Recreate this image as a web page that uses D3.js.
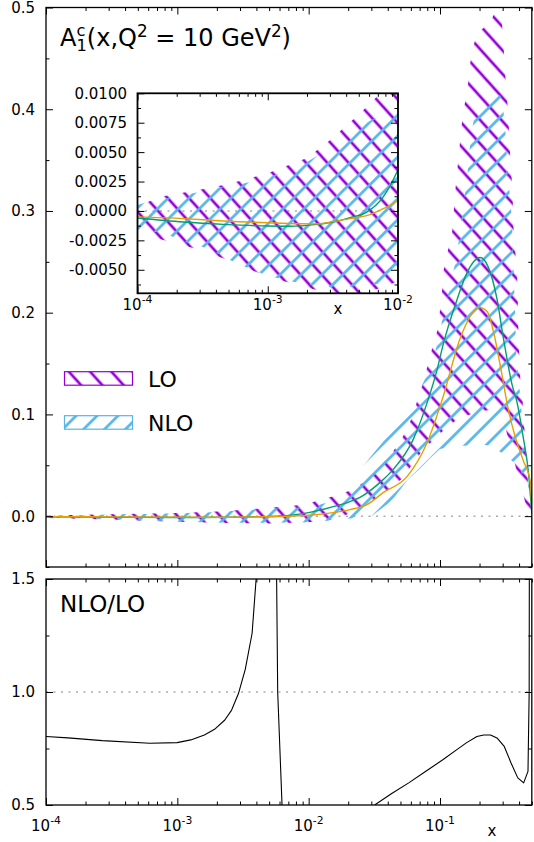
<!DOCTYPE html>
<html><head><meta charset="utf-8">
<script src="https://cdn.jsdelivr.net/npm/d3@7"></script>
<style>
body{margin:0;background:#fff}
text{font-family:"DejaVu Sans",sans-serif;white-space:pre}
</style>
</head><body>
<svg id="c" width="534" height="842"></svg>
<script>
// ---------------- data ----------------
const loUpX = [1e-4,1.5e-4,3e-4,5e-4,1e-3,2e-3,3e-3,5e-3,7e-3,1e-2,0.0117,0.0166,0.0214,0.0269,0.0339,0.0398,0.0479,0.0542,0.0617,0.068,0.0741,0.0841,0.0966,0.1038,0.1057,0.1153,0.1236,0.1303,0.1349,0.1396,0.1445,0.15,0.162,0.1667,0.1758,0.192,0.24,0.272,0.287,0.302,0.318,0.33,0.336,0.342,0.352,0.358,0.362,0.373,0.386,0.394,0.396,0.405,0.41,0.422,0.43,0.445,0.469,0.5];
const loUpY = [0.0004,0.0012,0.0018,0.0023,0.0032,0.0045,0.006,0.0082,0.0098,0.012,0.0155,0.0205,0.026,0.034,0.046,0.057,0.07,0.082,0.098,0.116,0.13,0.158,0.185,0.222,0.24,0.262,0.279,0.318,0.338,0.358,0.378,0.398,0.418,0.438,0.458,0.475,0.485,0.5,0.51,0.47,0.423,0.398,0.376,0.355,0.33,0.31,0.285,0.262,0.24,0.194,0.172,0.152,0.128,0.124,0.102,0.076,0.03,0.004];
const loLowX = [1e-4,1.5e-4,3e-4,5e-4,1e-3,2e-3,3e-3,5e-3,1e-2,0.0155,0.02,0.0245,0.03,0.035,0.0437,0.0525,0.063,0.0741,0.0912,0.1096,0.138,0.2,0.272,0.31,0.35,0.4,0.45,0.5];
const loLowY = [-0.0019,-0.0024,-0.0033,-0.0042,-0.0056,-0.0065,-0.007,-0.0072,-0.006,-0.003,0.002,0.008,0.014,0.02,0.029,0.038,0.053,0.065,0.076,0.086,0.096,0.103,0.105,0.09,0.065,0.035,0.012,0.002];

const nloUpX = [1e-4,1.32e-4,2e-4,2.95e-4,4.17e-4,5.9e-4,9.5e-4,1.66e-3,2.4e-3,3.8e-3,6.2e-3,1e-2,0.0155,0.02,0.0246,0.0294,0.0362,0.044,0.0562,0.0731,0.0885,0.1,0.1132,0.1349,0.15,0.1607,0.1667,0.1758,0.192,0.2244,0.258,0.297,0.308,0.318,0.33,0.342,0.354,0.36,0.373,0.38,0.407,0.43,0.469,0.5];
const nloUpY = [0.0005,0.0009,0.0012,0.0016,0.002,0.0022,0.0028,0.0036,0.0047,0.0064,0.0077,0.0088,0.015,0.028,0.045,0.058,0.072,0.087,0.105,0.129,0.151,0.183,0.213,0.257,0.306,0.33,0.357,0.381,0.407,0.417,0.42,0.411,0.391,0.371,0.33,0.314,0.288,0.255,0.2,0.16,0.12,0.084,0.04,0.002];
const nloLowX = [1e-4,1.62e-4,2.24e-4,3.47e-4,5.9e-4,1e-3,1.86e-3,3.16e-3,5e-3,1e-2,0.0155,0.03,0.0355,0.0427,0.0562,0.0708,0.0841,0.1,0.13,0.2244,0.25,0.297,0.373,0.43,0.469,0.5];
const nloLowY = [-0.0016,-0.0019,-0.0026,-0.0032,-0.0045,-0.0055,-0.0062,-0.0065,-0.0064,-0.006,-0.004,0.0,0.007,0.015,0.035,0.047,0.057,0.066,0.069,0.07,0.068,0.062,0.052,0.04,0.03,0.002];

const loCenX = [1e-4,2.25e-4,4.57e-4,1e-3,1.48e-3,2.38e-3,3.19e-3,4.28e-3,5.75e-3,7.7e-3,1e-2,0.01535,0.02065,0.0246,0.03689,0.04397,0.0624,0.0798,0.09506,0.10566,0.13497,0.16069,0.20182,0.23221,0.27199,0.3025,0.35402,0.38637,0.42954,0.46881,0.5];
const loCenY = [-0.0006,-0.00094,-0.00114,-0.00128,-0.0013,-0.00114,-0.00094,-0.00057,-0.0001,0.0012,0.0035,0.0093,0.0143,0.0185,0.0359,0.0457,0.0752,0.1116,0.144,0.1686,0.213,0.2394,0.2542,0.2453,0.213,0.1765,0.129,0.1116,0.078,0.0457,0.003];
const nloCenX = [1e-4,2.25e-4,4.57e-4,1e-3,2.38e-3,3.19e-3,4.28e-3,5.75e-3,7.7e-3,1e-2,0.01535,0.02065,0.02776,0.03689,0.05608,0.0798,0.10566,0.14122,0.17766,0.20182,0.2295,0.25644,0.29143,0.33117,0.36996,0.42954,0.48863,0.5];
const nloCenY = [-0.0005,-0.00065,-0.00085,-0.001,-0.0011,-0.0009,-0.00065,-0.0004,0.0002,0.0009,0.0034,0.0064,0.0113,0.0231,0.0388,0.0723,0.1175,0.1735,0.2001,0.205,0.201,0.1804,0.144,0.105,0.08,0.055,0.033,0.004];

// NLO/LO ratio (null marks a break in the curve)
const ratioX = [1e-4,1.47e-4,2.68e-4,6.18e-4,9.97e-4,1.265e-3,1.607e-3,1.92e-3,2.3e-3,2.59e-3,2.92e-3,3.29e-3,3.71e-3,3.98e-3,4.05e-3,null,
                5.68e-3,5.81e-3,6.27e-3,6.35e-3,null,
                0.0318,0.0429,0.0578,0.078,0.105,0.1336,0.1596,0.191,0.2153,0.2427,0.2735,0.3085,0.3475,0.391,0.4335,0.4677,0.4775,0.479];
const ratioY = [0.803,0.797,0.785,0.773,0.776,0.788,0.81,0.835,0.876,0.92,0.993,1.1,1.26,1.5,1.6,null,
                1.6,1.0,0.5,0.47,null,
                0.5,0.551,0.598,0.649,0.70,0.744,0.776,0.803,0.81,0.81,0.795,0.759,0.686,0.62,0.598,0.649,1.0,1.6];

const mainYTicks = [0,0.1,0.2,0.3,0.4,0.5];
const mainYMinor = [-0.05,0.05,0.15,0.25,0.35,0.45];
const ratioYTicks = [0.5,1.0,1.5];
const ratioYMinor = [0.75,1.25];
const insetYTicks = [-0.005,-0.0025,0,0.0025,0.005,0.0075,0.01];
const insetYMinor = [-0.00625,-0.00375,-0.00125,0.00125,0.00375,0.00625,0.00875];
const mainXLabels = [1e-4,1e-3,1e-2,1e-1];
const mainXExp = ["-4","-3","-2","-1"];
const insetXLabels = [1e-4,1e-3,1e-2];
const insetXExp = ["-4","-3","-2"];

const cLO = "#9400D3", cNLO = "#56B4E9", cLOline = "#009E73", cNLOline = "#E69F00";

// ---------------- scales ----------------
const xMain = d3.scaleLog().domain([1e-4,0.5]).range([46,531.8]);
const yMain = d3.scaleLinear().domain([-0.05,0.5]).range([567,7.5]);
const yRat  = d3.scaleLinear().domain([0.5,1.5]).range([805,579]);
const xIn   = d3.scaleLog().domain([1e-4,1e-2]).range([137.5,398]);
const yIn   = d3.scaleLinear().domain([-0.007,0.010]).range([293.3,93.3]);

const svg = d3.select("#c");
const defs = svg.append("defs");

function hatch(id,color,angle,spacing,width){
  const p = defs.append("pattern").attr("id",id).attr("patternUnits","userSpaceOnUse")
    .attr("width",spacing).attr("height",spacing).attr("patternTransform",`rotate(${angle})`);
  p.append("line").attr("x1",spacing/2).attr("x2",spacing/2).attr("y1",-2).attr("y2",spacing+2)
    .attr("stroke",color).attr("stroke-width",width);
}
hatch("hLO",cLO,-42,15.8,2.7);
hatch("hNLO",cNLO,45,14.8,2.7);

function clip(id,x0,y0,x1,y1){
  defs.append("clipPath").attr("id",id).append("rect")
    .attr("x",x0).attr("y",y0).attr("width",x1-x0).attr("height",y1-y0);
}
clip("cMain",46,7.5,531.8,567);
clip("cRat",46,579,531.8,805);
clip("cIn",137.5,93.3,398,293.3);

const zip = (xs,ys)=>xs.map((x,i)=>[x,ys[i]]);
function bandPts(ux,uy,lx,ly){
  const pts = zip(ux,uy);
  for(let i=lx.length-1;i>=0;i--) pts.push([lx[i],ly[i]]);
  return pts;
}

function content(g,xs,ys){
  const [x0,x1] = xs.range();
  g.append("line").attr("x1",x0).attr("x2",x1).attr("y1",ys(0)).attr("y2",ys(0))
    .attr("stroke","#aaa").attr("stroke-width",1.5).attr("stroke-dasharray","2,5.5");
  const ln = d3.line().x(d=>xs(d[0])).y(d=>ys(d[1]));
  g.append("path").attr("d",ln(bandPts(loUpX,loUpY,loLowX,loLowY))+"Z").attr("fill","url(#hLO)");
  g.append("path").attr("d",ln(bandPts(nloUpX,nloUpY,nloLowX,nloLowY))+"Z").attr("fill","url(#hNLO)");
  const cl = d3.line().x(d=>xs(d[0])).y(d=>ys(d[1])).curve(d3.curveMonotoneX);
  g.append("path").attr("d",cl(zip(loCenX,loCenY))).attr("fill","none").attr("stroke",cLOline).attr("stroke-width",1.4);
  g.append("path").attr("d",cl(zip(nloCenX,nloCenY))).attr("fill","none").attr("stroke",cNLOline).attr("stroke-width",1.4);
}

function logTicks(lo,hi){
  const maj=[],min=[];
  for(let e=-4;e<=0;e++) for(let m=1;m<10;m++){
    const v = +(m*Math.pow(10,e)).toPrecision(6);
    if(v>=lo*0.999 && v<=hi*1.001) (m===1?maj:min).push(v);
  }
  return [maj,min];
}

function frame(xs,ys,yMaj,yMin,sw){
  const [x0,x1]=xs.range(), [y0,y1]=ys.range();
  const [xmaj,xmin] = logTicks(xs.domain()[0],xs.domain()[1]);
  const g = svg.append("g");
  const add = (axis,tr)=>{
    const a = g.append("g").attr("transform",tr).call(axis);
    a.select(".domain").remove();
    a.selectAll("line").attr("stroke","#000").attr("stroke-width",1);
  };
  add(d3.axisBottom(xs).tickValues(xmaj).tickSize(-7).tickFormat(""),`translate(0,${y0})`);
  add(d3.axisBottom(xs).tickValues(xmin).tickSize(-3.5).tickFormat(""),`translate(0,${y0})`);
  add(d3.axisTop(xs).tickValues(xmaj).tickSize(-7).tickFormat(""),`translate(0,${y1})`);
  add(d3.axisTop(xs).tickValues(xmin).tickSize(-3.5).tickFormat(""),`translate(0,${y1})`);
  add(d3.axisLeft(ys).tickValues(yMaj).tickSize(-7).tickFormat(""),`translate(${x0},0)`);
  add(d3.axisLeft(ys).tickValues(yMin).tickSize(-3.5).tickFormat(""),`translate(${x0},0)`);
  add(d3.axisRight(ys).tickValues(yMaj).tickSize(-7).tickFormat(""),`translate(${x1},0)`);
  add(d3.axisRight(ys).tickValues(yMin).tickSize(-3.5).tickFormat(""),`translate(${x1},0)`);
  g.append("rect").attr("x",x0).attr("y",y1).attr("width",x1-x0).attr("height",y0-y1)
    .attr("fill","none").attr("stroke","#000").attr("stroke-width",sw);
}

function yLabels(ys,vals,fmt,xr,size){
  svg.append("g").selectAll("text").data(vals).join("text")
    .attr("x",xr).attr("y",d=>ys(d)).attr("dy","0.36em").attr("text-anchor","end")
    .attr("font-size",size).text(fmt);
}
function xLabels(xs,vals,exps,yb,size){
  vals.forEach((v,i)=>{
    const t = svg.append("text").attr("x",xs(v)).attr("y",yb).attr("text-anchor","middle").attr("font-size",size);
    t.append("tspan").text("10");
    t.append("tspan").attr("font-size","72%").attr("dy",-7).text(exps[i]);
  });
}

// ---------------- main panel ----------------
const gMain = svg.append("g").attr("clip-path","url(#cMain)");
content(gMain,xMain,yMain);
frame(xMain,yMain,mainYTicks,mainYMinor,1.3);
yLabels(yMain,mainYTicks,d=>d.toFixed(1),35,15);

// title
const tt = svg.append("text").attr("x",60).attr("y",46).attr("font-size",24);
tt.append("tspan").text("A");
const sup = tt.append("tspan").attr("font-size","68%").attr("dy",-10).text("c");
const supW = sup.node().getComputedTextLength();
tt.append("tspan").attr("font-size","68%").attr("dx",-supW).attr("dy",15).text("1");
tt.append("tspan").attr("dy",-5).text("(x,Q");
tt.append("tspan").attr("font-size","70%").attr("dy",-9).text("2");
tt.append("tspan").attr("dy",9).text(" = 10 GeV");
tt.append("tspan").attr("font-size","70%").attr("dy",-9).text("2");
tt.append("tspan").attr("dy",9).text(")");

// legend
const legend = [{name:"LO",fill:"url(#hLO)",stroke:cLO,y:371.7},{name:"NLO",fill:"url(#hNLO)",stroke:cNLO,y:415.7}];
legend.forEach(l=>{
  svg.append("rect").attr("x",64.5).attr("y",l.y).attr("width",68).attr("height",13.5)
    .attr("fill",l.fill).attr("stroke",l.stroke).attr("stroke-width",1.2);
  svg.append("text").attr("x",148).attr("y",l.y+15.3).attr("font-size",22).text(l.name);
});

// ---------------- inset ----------------
svg.append("rect").attr("x",137.5).attr("y",93.3).attr("width",398-137.5).attr("height",200).attr("fill","#fff");
const gIn = svg.append("g").attr("clip-path","url(#cIn)");
content(gIn,xIn,yIn);
frame(xIn,yIn,insetYTicks,insetYMinor,1.8);
yLabels(yIn,insetYTicks,d=>d.toFixed(4),127,15);
xLabels(xIn,insetXLabels,insetXExp,310,15);
svg.append("text").attr("x",338).attr("y",313.5).attr("text-anchor","middle").attr("font-size",15).text("x");

// ---------------- ratio panel ----------------
const gRat = svg.append("g").attr("clip-path","url(#cRat)");
gRat.append("line").attr("x1",46).attr("x2",531.8).attr("y1",yRat(1)).attr("y2",yRat(1))
  .attr("stroke","#aaa").attr("stroke-width",1.3).attr("stroke-dasharray","2,5.5");
gRat.append("path")
  .attr("d",d3.line().defined(d=>d[0]!==null && d[1]!==null).x(d=>xMain(d[0])).y(d=>yRat(d[1]))(zip(ratioX,ratioY)))
  .attr("fill","none").attr("stroke","#000").attr("stroke-width",1.1).attr("stroke-linejoin","round");
frame(xMain,yRat,ratioYTicks,ratioYMinor,1.3);
yLabels(yRat,ratioYTicks,d=>d.toFixed(1),35,15);
xLabels(xMain,mainXLabels,mainXExp,831,15);
svg.append("text").attr("x",492).attr("y",836).attr("text-anchor","middle").attr("font-size",15).text("x");
svg.append("text").attr("x",60).attr("y",612).attr("font-size",23).text("NLO/LO");
</script>
</body></html>
